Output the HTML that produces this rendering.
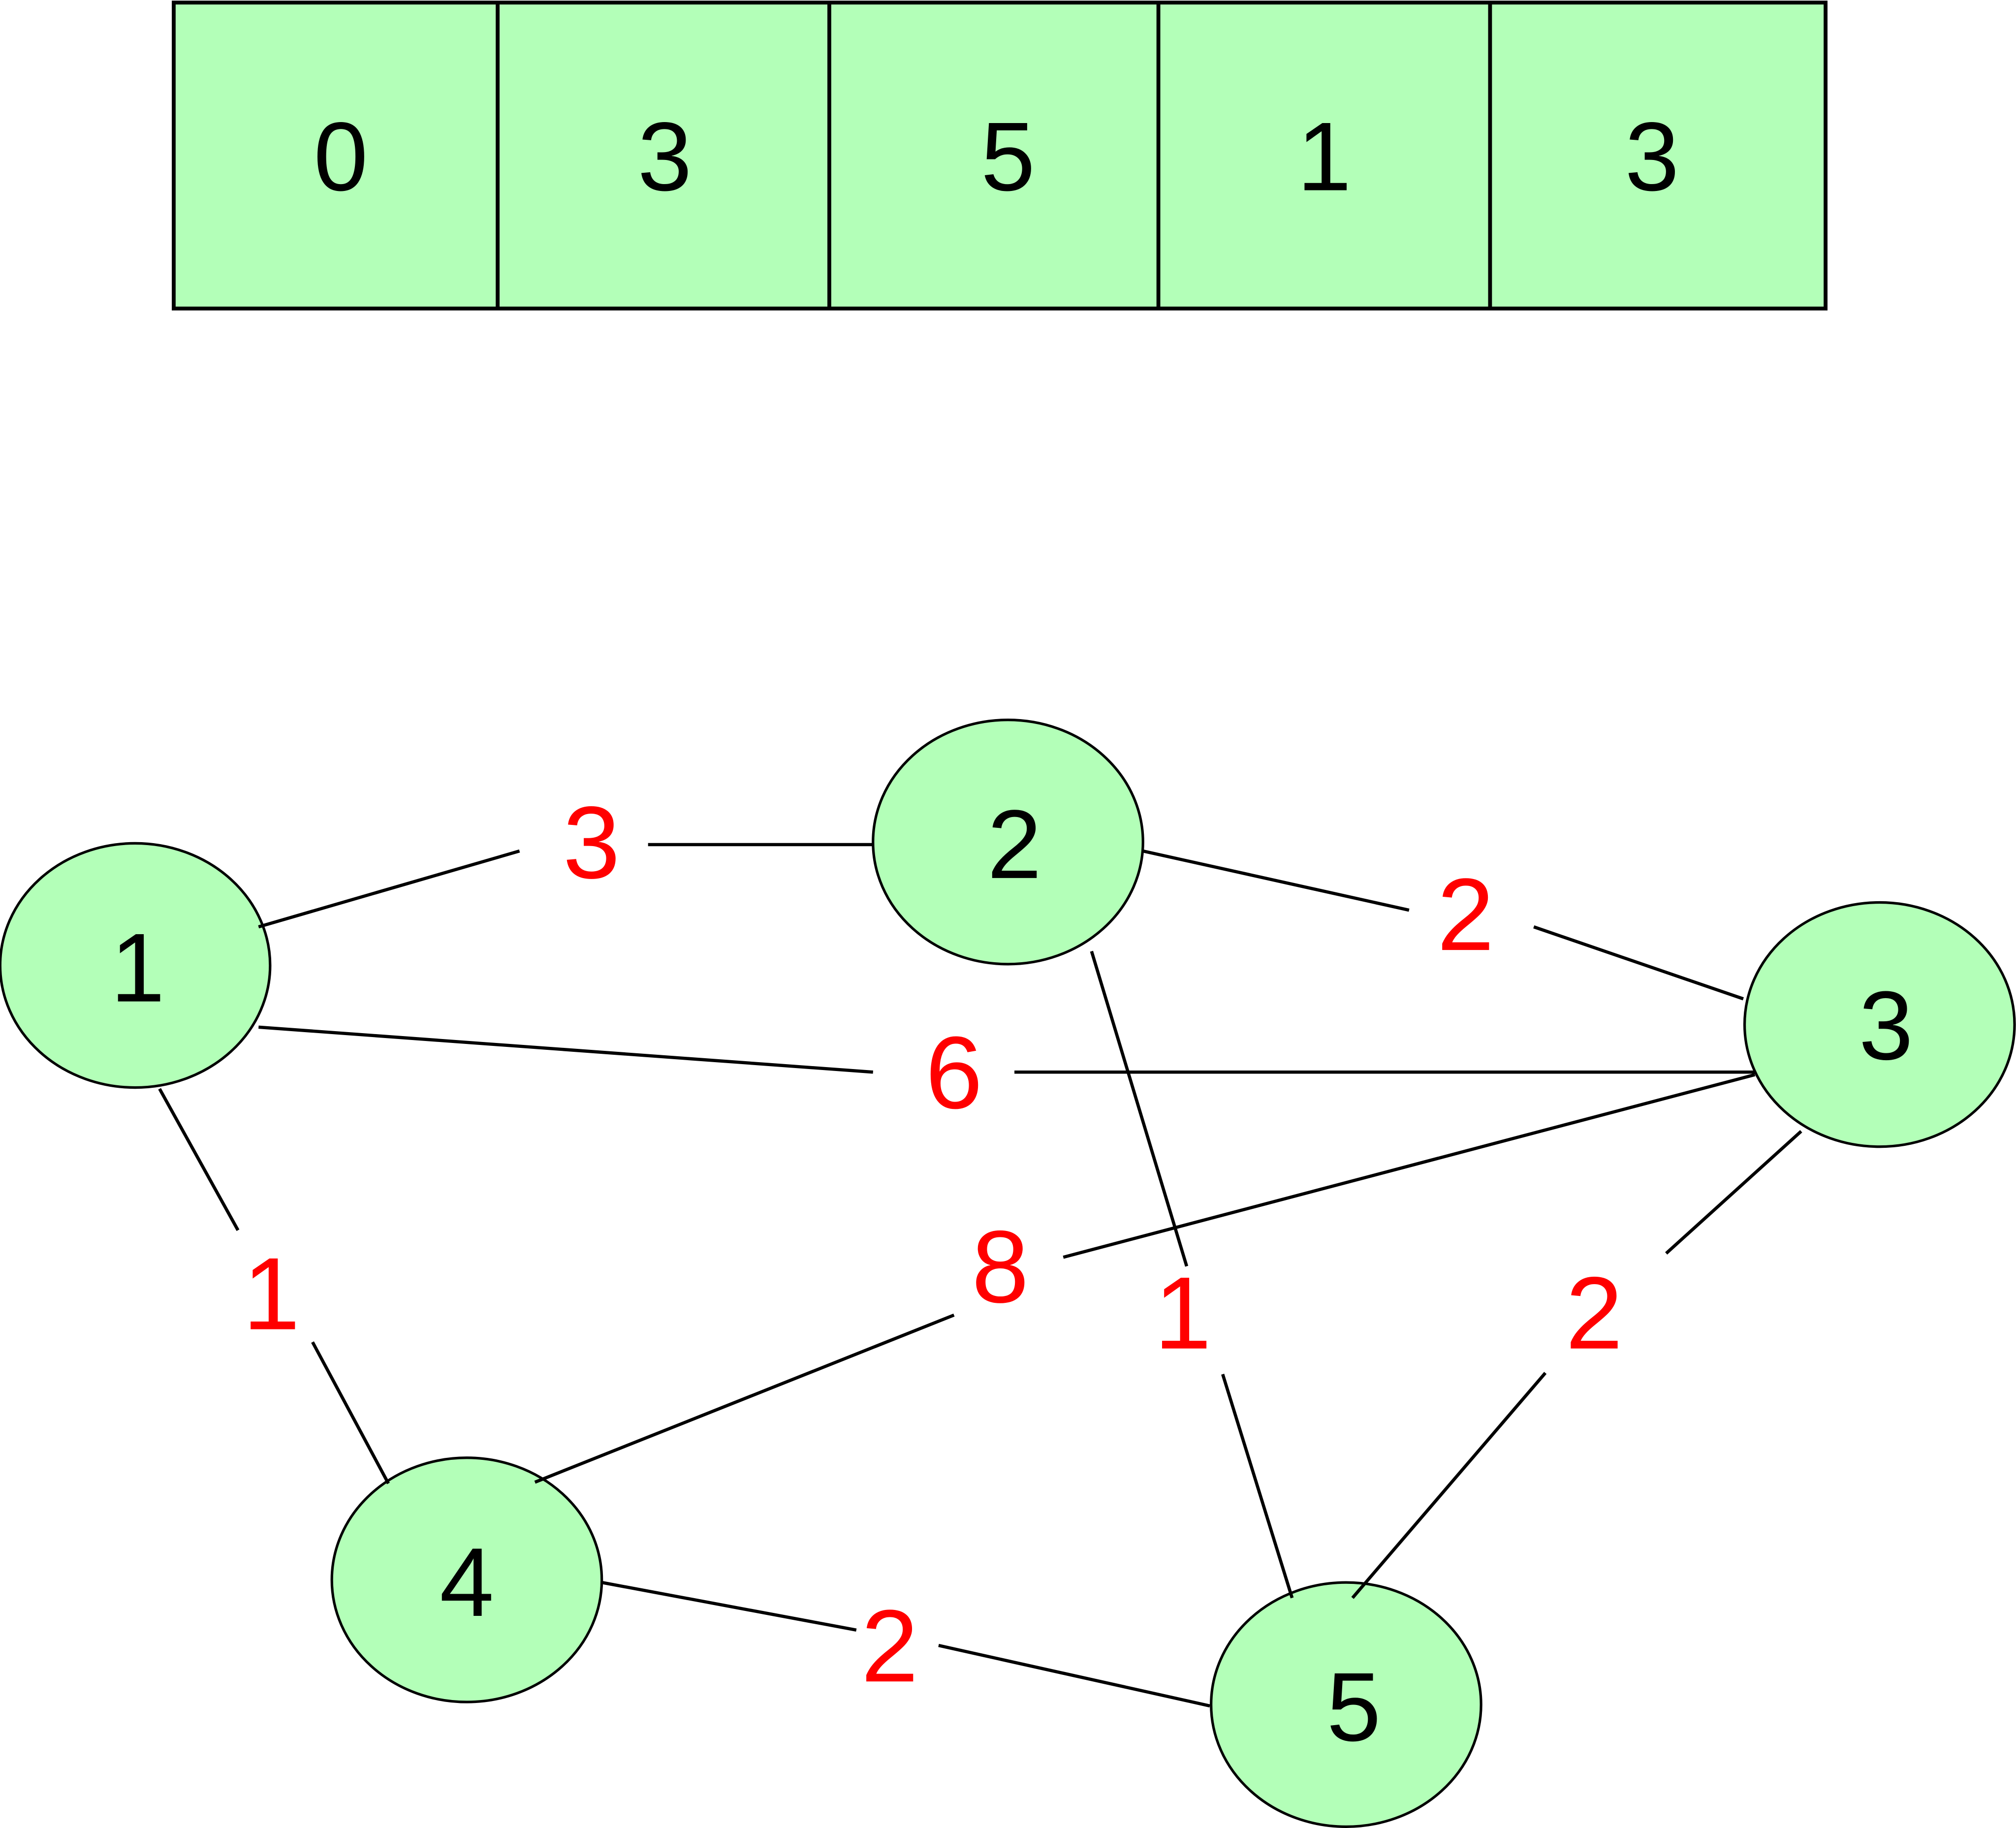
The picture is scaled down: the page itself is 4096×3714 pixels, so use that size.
<!DOCTYPE html>
<html><head><meta charset="utf-8"><style>html,body{margin:0;padding:0;background:#fff}svg{display:block}</style></head>
<body>
<svg width="4096" height="3714" viewBox="0 0 1568 1422" xmlns="http://www.w3.org/2000/svg" font-family="Liberation Sans, DejaVu Sans, sans-serif">
<rect x="0" y="0" width="1568" height="1422" fill="#fff"/>
<g fill="#b3ffb8" stroke="#000" stroke-width="3">
<rect x="135" y="2" width="1285" height="238"/>
</g>
<g stroke="#000" stroke-width="3">
<line x1="387" y1="2" x2="387" y2="240"/>
<line x1="645" y1="2" x2="645" y2="240"/>
<line x1="901" y1="2" x2="901" y2="240"/>
<line x1="1159" y1="2" x2="1159" y2="240"/>
</g>
<g font-size="76" text-anchor="middle" fill="#000">
<text x="265" y="148">0</text>
<text x="517" y="148">3</text>
<text x="784" y="148">5</text>
<text x="1030" y="148">1</text>
<text x="1285" y="148">3</text>
</g>
<g fill="#b3ffb8" stroke="#000" stroke-width="2">
<ellipse cx="105" cy="751" rx="105" ry="95"/>
<ellipse cx="784" cy="655" rx="105" ry="95"/>
<ellipse cx="1462" cy="797" rx="105" ry="95"/>
<ellipse cx="363" cy="1229" rx="105" ry="95"/>
<ellipse cx="1047" cy="1326" rx="105" ry="95"/>
</g>
<g stroke="#000" stroke-width="2.5" fill="none">
<line x1="201" y1="721" x2="404" y2="662"/><line x1="504" y1="657" x2="679" y2="657"/>
<line x1="889" y1="662" x2="1096" y2="708"/><line x1="1193" y1="721" x2="1356" y2="777"/>
<line x1="201" y1="799" x2="679" y2="834"/><line x1="789" y1="834" x2="1365" y2="834"/>
<line x1="1365" y1="836" x2="827" y2="978"/><line x1="742" y1="1023" x2="416" y2="1153"/>
<line x1="849" y1="740" x2="923" y2="985"/><line x1="951" y1="1069" x2="1005" y2="1243"/>
<line x1="1401" y1="880" x2="1296" y2="975"/><line x1="1202" y1="1068" x2="1052" y2="1243"/>
<line x1="124" y1="847" x2="185" y2="957"/><line x1="243" y1="1044" x2="302" y2="1154"/>
<line x1="468" y1="1231" x2="666" y2="1268"/><line x1="730" y1="1280" x2="941" y2="1327"/>
</g>
<g font-size="76" text-anchor="middle" fill="#000">
<text x="107" y="779">1</text>
<text x="789" y="683">2</text>
<text x="1467" y="824">3</text>
<text x="363" y="1257">4</text>
<text x="1053" y="1354">5</text>
</g>
<g font-size="80" text-anchor="middle" fill="#ff0000">
<text x="460" y="683">3</text>
<text x="1140" y="739">2</text>
<text x="742" y="862">6</text>
<text x="778" y="1013">8</text>
<text x="920" y="1049">1</text>
<text x="1240" y="1049">2</text>
<text x="211" y="1034">1</text>
<text x="692" y="1308">2</text>
</g>
</svg>
</body></html>
